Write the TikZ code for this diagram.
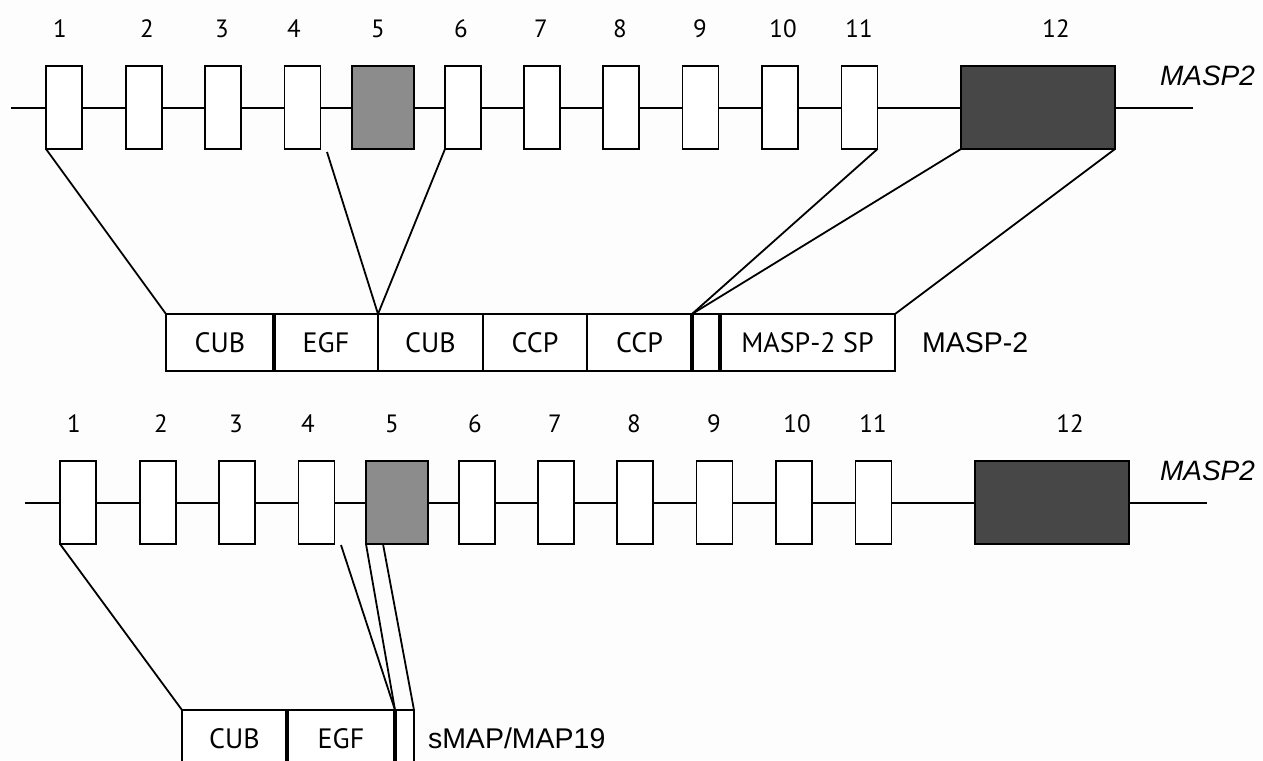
\documentclass[tikz,border=0pt]{standalone}
\usepackage{fontspec}
\setmainfont{Liberation Sans}
\newfontfamily\domainfont{PT Sans}
\usetikzlibrary{positioning}
\definecolor{exongrey}{RGB}{140,140,140}
\definecolor{exondark}{RGB}{71,71,71}
\definecolor{paper}{RGB}{253,253,253}

\begin{document}
\begin{tikzpicture}[
    x=1pt, y=-1pt,
    every node/.style={inner sep=0pt, outer sep=0pt},
    exon/.style={draw, line width=1.8pt, minimum height=83pt},
    num/.style={font=\domainfont\fontsize{25}{25}\selectfont},
    domainbox/.style={draw, line width=1.8pt, fill=white, minimum height=57pt,
      font=\domainfont\fontsize{28}{28}\selectfont},
    divider/.style={line width=3.2pt},
    link/.style={line width=1.8pt},
    genename/.style={font=\itshape\fontsize{28}{28}\selectfont, anchor=west},
    protname/.style={font=\fontsize{28.5}{28.5}\selectfont}
  ]
  \fill[paper] (0,0) rectangle (1263,760);
  \useasboundingbox (0,0) rectangle (1263,760);
  \clip (0,0) rectangle (1263,760);

  % the two copies of the gene
  \foreach \g/\dx/\dy in {t/0/0, b/14/395} {
    \coordinate (\g-start) at (11+\dx,108+\dy);
    \coordinate (\g-end) at (1193+\dx,108+\dy);
    \draw[link] (\g-start) -- (\g-end);
    \foreach \n/\x/\lx/\w/\c in {1/64/60/36/white, 2/144/147/36/white,
        3/223/222/36/white, 4/302.5/294/36/white, 5/383/378/62/exongrey,
        6/463/461/36/white, 7/542/541/36/white, 8/621/620/36/white,
        9/700.5/700/36/white, 10/780/783/36/white, 11/859.5/859/36/white,
        12/1038/1056/154/exondark} {
      \node[exon, minimum width=\w pt, fill=\c] (\g\n) at (\x+\dx,107.5+\dy) {};
      \node[num] (\g\n-num) at (\lx+\dx,29+\dy) {\n};
    }
    \node[genename] (\g-name) at (1160,76+\dy) {MASP2};
  }

  % MASP-2
  \node[domainbox, minimum width=108pt] (p1) at (220,342.5) {CUB};
  \node[domainbox, minimum width=104pt, right=0pt of p1] (p2) {EGF};
  \node[domainbox, minimum width=105pt, right=0pt of p2] (p3) {CUB};
  \node[domainbox, minimum width=104pt, right=0pt of p3] (p4) {CCP};
  \node[domainbox, minimum width=105pt, right=0pt of p4] (p5) {CCP};
  \node[domainbox, minimum width=28pt, right=0pt of p5] (p6) {};
  \node[domainbox, minimum width=175pt, right=0pt of p6] (p7) {MASP-2 SP};
  \node[protname, right=27pt of p7] (p-name) {MASP-2};
  \draw[divider] (p1.north east) -- (p1.south east);
  \draw[divider] (p5.north east) -- (p5.south east);
  \draw[divider] (p6.north east) -- (p6.south east);

  \coordinate (t4-off) at (327,152);
  \draw[link] (t1.south west) -- (p1.north west);
  \draw[link] (t4-off) -- (p3.north west);
  \draw[link] (t6.south west) -- (p3.north west);
  \draw[link] (t11.south east) -- (p6.north west);
  \draw[link] (t12.south west) -- (p6.north west);
  \draw[link] (t12.south east) -- (p7.north east);

  % sMAP/MAP19
  \node[domainbox, minimum width=105pt] (q1) at (234.5,738.5) {CUB};
  \node[domainbox, minimum width=108pt, right=0pt of q1] (q2) {EGF};
  \node[domainbox, minimum width=19pt, right=0pt of q2] (q3) {};
  \node[protname, right=14pt of q3] (q-name) {sMAP/MAP19};
  \draw[divider] (q1.north east) -- (q1.south east);
  \draw[divider] (q2.north east) -- (q2.south east);

  \coordinate (b4-off) at (341,545);
  \coordinate (b5-off) at (383,544);
  \draw[link] (b1.south west) -- (q1.north west);
  \draw[link] (b4-off) -- (q3.north west);
  \draw[link] (b5.south west) -- (q3.north west);
  \draw[link] (b5-off) -- (q3.north east);
\end{tikzpicture}
\end{document}
